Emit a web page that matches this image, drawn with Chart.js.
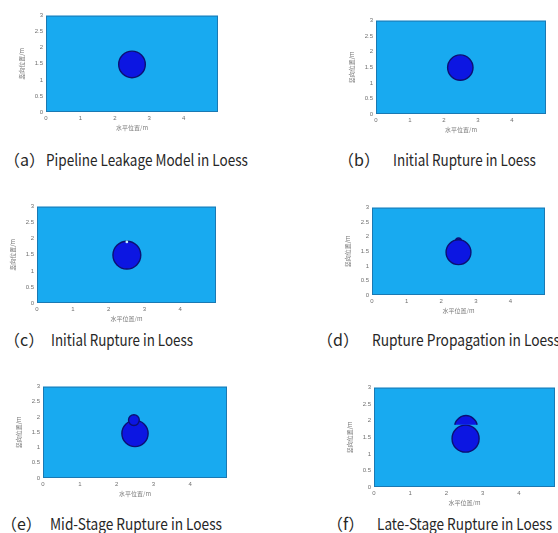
<!DOCTYPE html>
<html>
<head>
<title>Pipeline leakage in loess</title>
<script src="https://cdn.jsdelivr.net/npm/chart.js"></script>
<style>
  body {
    margin: 0;
    width: 558px;
    height: 533px;
    background: #fff;
    overflow: hidden;
    position: relative;
    font-family: "Noto Sans CJK SC", "Noto Sans", sans-serif;
  }
  canvas { position: absolute; }
  .cap {
    position: absolute;
    font-size: 16px;
    line-height: 16px;
    color: #262626;
    white-space: nowrap;
    transform-origin: 0 50%;
  }
</style>
</head>
<body>
<script>
// shared axes
const xRange = [0, 5];
const yRange = [0, 3];
const xTicks = [0, 1, 2, 3, 4];
const yTicks = [0, 0.5, 1, 1.5, 2, 2.5, 3];
const xTitle = '水平位置/m';
const yTitle = '竖向位置/m';

const panelTags = ['（a）', '（b）', '（c）', '（d）', '（e）', '（f）'];
const panelNames = [
  'Pipeline Leakage Model in Loess',
  'Initial Rupture in Loess',
  'Initial Rupture in Loess',
  'Rupture Propagation in Loess',
  'Mid-Stage Rupture in Loess',
  'Late-Stage Rupture in Loess'
];

// main cavity round the pipe, one per panel (m)
const cavityX = [2.5, 2.48, 2.51, 2.5, 2.5, 2.53];
const cavityY = [1.48, 1.49, 1.49, 1.47, 1.46, 1.46];
const cavityR = [0.40, 0.39, 0.41, 0.39, 0.39, 0.39];

// features above the cavity: [x, y, r]
const crackSpot = [2.51, 1.90, 0.04];   // (c)
const bulge = [2.5, 1.86, 0.09];        // (d)
const cap = [2.47, 1.90, 0.16];         // (e)
// (f) detached dome, outline
const domeX = [2.23, 2.27, 2.35, 2.44, 2.54, 2.64, 2.73, 2.81, 2.85];
const domeY = [1.88, 1.99, 2.08, 2.14, 2.16, 2.14, 2.08, 1.99, 1.88];
const domeBase = 1.88;

// layout: chart area in page px [left, top, right, bottom]
const panelBoxes = [
  [46, 13, 218, 112],
  [376, 18, 546, 114],
  [37, 204, 216, 303],
  [372, 205, 545, 295],
  [43, 384, 227, 478],
  [374, 385, 555, 487]
];
// caption: [tag left, text left, text width, centre y]
const captionPos = [
  [4, 46, 202, 159],
  [338, 393, 143, 159],
  [4, 51, 142, 339],
  [317, 372, 188, 339],
  [1, 50, 172, 523],
  [327, 377, 175, 523]
];

const soil = 'rgb(24,170,240)';
const hole = 'rgb(12,22,226)';
const edge = 'rgb(12,16,115)';

const areaFill = {
  id: 'areaFill',
  beforeDraw(chart) {
    const { ctx, chartArea: a } = chart;
    ctx.save();
    ctx.fillStyle = soil;
    ctx.fillRect(a.left, a.top, a.width, a.height);
    ctx.strokeStyle = 'rgba(30,80,130,0.55)';
    ctx.lineWidth = 1;
    ctx.strokeRect(a.left + 0.5, a.top + 0.5, a.width - 1, a.height - 1);
    ctx.restore();
  }
};

// radius given in metres -> pixels through the scales
function pxRadius(c) {
  const sx = c.chart.scales.x, sy = c.chart.scales.y;
  const rx = Math.abs(sx.getPixelForValue(c.raw.rad) - sx.getPixelForValue(0));
  const ry = Math.abs(sy.getPixelForValue(c.raw.rad) - sy.getPixelForValue(0));
  return (rx + ry) / 2;
}

function circleSet(p, fill, line, order) {
  return {
    data: [{ x: p[0], y: p[1], rad: p[2] }],
    pointRadius: pxRadius,
    pointBackgroundColor: fill,
    pointBorderColor: line || fill,
    pointBorderWidth: line ? 1.4 : 0,
    order: order
  };
}

function axis(range, ticks, title, isX) {
  return {
    type: 'linear',
    min: range[0],
    max: range[1],
    afterBuildTicks: s => { s.ticks = ticks.map(v => ({ value: v })); },
    afterFit: s => { if (isX) s.height = 23; else s.width = 28; },
    grid: { display: false, drawTicks: false, tickLength: 0 },
    border: { display: false },
    ticks: { autoSkip: false, maxRotation: 0, padding: 3, color: '#6f6f6f',
             callback: v => String(v),
             font: { size: 6, family: 'Liberation Sans' } },
    title: { display: true, text: title, color: '#7a7a7a', padding: { top: 0, bottom: 4 },
             font: { size: 6, family: 'Noto Sans CJK SC' } }
  };
}

panelBoxes.forEach((b, i) => {
  const canvas = document.createElement('canvas');
  canvas.width = b[2] - b[0] + 30;
  canvas.height = b[3] - b[1] + 27;
  canvas.style.left = (b[0] - 28) + 'px';
  canvas.style.top = (b[1] - 4) + 'px';
  document.body.appendChild(canvas);

  const sets = [circleSet([cavityX[i], cavityY[i], cavityR[i]], hole, edge, 2)];
  if (i === 2) sets.push(circleSet(crackSpot, '#c4efff', null, 1));
  if (i === 3) sets.push(circleSet(bulge, hole, edge, 3));
  if (i === 4) sets.push(circleSet(cap, hole, edge, 1));
  if (i === 5) {
    sets.push({
      type: 'line',
      data: domeX.map((x, k) => ({ x: x, y: domeY[k] })),
      fill: { value: domeBase },
      backgroundColor: hole,
      borderColor: edge,
      borderWidth: 1.4,
      pointRadius: 0,
      tension: 0.4,
      order: 1
    });
  }

  new Chart(canvas, {
    type: 'scatter',
    data: { datasets: sets },
    options: {
      responsive: false,
      animation: false,
      devicePixelRatio: 1,
      events: [],
      layout: { padding: { left: 0, top: 4, right: 2, bottom: 0 } },
      plugins: { legend: { display: false }, tooltip: { enabled: false } },
      scales: {
        x: axis(xRange, xTicks, xTitle, true),
        y: axis(yRange, yTicks, yTitle, false)
      }
    },
    plugins: [areaFill]
  });
});

captionPos.forEach((c, i) => {
  const tag = document.createElement('div');
  tag.className = 'cap';
  tag.textContent = panelTags[i];
  tag.style.left = c[0] + 'px';
  tag.style.top = (c[3] - 8) + 'px';
  document.body.appendChild(tag);

  const txt = document.createElement('div');
  txt.className = 'cap';
  txt.textContent = panelNames[i];
  txt.style.left = c[1] + 'px';
  txt.style.top = (c[3] - 8) + 'px';
  document.body.appendChild(txt);
  txt.style.transform = 'scaleX(' + (c[2] / txt.offsetWidth) + ')';
});
</script>
</body>
</html>
